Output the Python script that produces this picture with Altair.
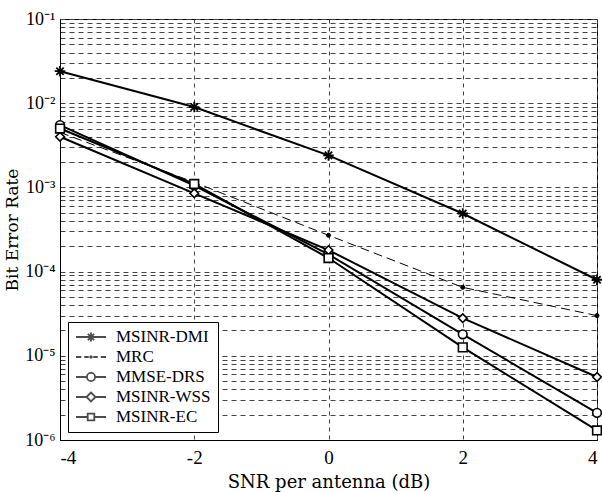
import altair as alt
import pandas as pd

snr = [-4, -2, 0, 2, 4]
series_names = ["MSINR-DMI", "MRC", "MMSE-DRS", "MSINR-WSS", "MSINR-EC"]
ber_dmi = [2.4e-2, 9.0e-3, 2.4e-3, 4.9e-4, 8.0e-5]
ber_mrc = [4.5e-3, 1.15e-3, 2.7e-4, 6.5e-5, 3.0e-5]
ber_drs = [5.5e-3, 1.05e-3, 1.6e-4, 1.8e-5, 2.1e-6]
ber_wss = [4.0e-3, 8.5e-4, 1.8e-4, 2.8e-5, 5.6e-6]
ber_ec = [5.0e-3, 1.1e-3, 1.45e-4, 1.26e-5, 1.3e-6]

rows = []
for name, vals in zip(series_names, [ber_dmi, ber_mrc, ber_drs, ber_wss, ber_ec]):
    for x, v in zip(snr, vals):
        rows.append({"snr": x, "ber": v, "series": name})
df = pd.DataFrame(rows)

FONT = "DejaVu Serif"
LFONT = "Liberation Serif"

# y-axis gridlines at every 1..9 x 10^k
yvals = [m * 10.0 ** k for k in range(-6, -1) for m in range(1, 10)] + [0.1]
sup = {-1: "10⁻¹", -2: "10⁻²", -3: "10⁻³", -4: "10⁻⁴", -5: "10⁻⁵", -6: "10⁻⁶"}
e = "(log(datum.value)/LN10)"
expr = "''"
for k, s in sup.items():
    expr = f"round({e}) == {k} ? '{s}' : " + expr
label_expr = f"abs({e} - round({e})) > 0.01 ? '' : " + expr

x_enc = alt.X(
    "snr:Q",
    scale=alt.Scale(domain=[-4, 4], nice=False, zero=False),
    axis=alt.Axis(
        values=snr, title="SNR per antenna (dB)", grid=True, gridDash=[4, 4],
        gridColor="#444", gridOpacity=1, ticks=False, labelPadding=8,
        labelExpr="replace(datum.label, '−', '-')",
        titlePadding=6, labelFont=LFONT, labelFontSize=19, titleFont=FONT,
        titleFontSize=18, titleFontWeight="normal", labelColor="black",
        titleColor="black", domainColor="black",
    ),
)
y_enc = alt.Y(
    "ber:Q",
    scale=alt.Scale(type="log", domain=[1e-6, 1e-1], nice=False),
    axis=alt.Axis(
        values=yvals, labelExpr=label_expr, title="Bit Error Rate", grid=True,
        gridDash=[5, 4], gridColor="#444", gridOpacity=1, ticks=False,
        labelPadding=5, titleX=-43, titleBaseline="alphabetic",
        labelFont=LFONT, labelFontSize=18,
        titleFont=FONT, titleFontSize=17, titleFontWeight="normal",
        labelColor="black", titleColor="black", domainColor="black",
        labelOverlap=False,
    ),
)

solid = alt.Chart(df).transform_filter("datum.series != 'MRC'").mark_line(
    color="black", strokeWidth=2
).encode(x=x_enc, y=y_enc, detail="series:N")

mrc_line = alt.Chart(df).transform_filter("datum.series == 'MRC'").mark_line(
    color="black", strokeWidth=1, strokeDash=[9, 5]
).encode(x=x_enc, y=y_enc)

asterisk = "M-1,0L1,0M0,-1L0,1M-0.7,-0.7L0.7,0.7M-0.7,0.7L0.7,-0.7"
open_names = ["MMSE-DRS", "MSINR-WSS", "MSINR-EC"]

dmi_pts = alt.Chart(df).transform_filter("datum.series == 'MSINR-DMI'").mark_point(
    shape=asterisk, size=110, filled=False, stroke="black", strokeWidth=1.8, opacity=1
).encode(x=x_enc, y=y_enc)

mrc_pts = alt.Chart(df).transform_filter("datum.series == 'MRC'").mark_point(
    shape="circle", size=16, filled=True, fill="black", stroke="black",
    strokeWidth=1, opacity=1
).encode(x=x_enc, y=y_enc)

open_pts = alt.Chart(df).transform_filter(
    alt.FieldOneOfPredicate(field="series", oneOf=open_names)
).mark_point(
    size=75, filled=True, fill="white", stroke="black", strokeWidth=1.6, opacity=1
).encode(
    x=x_enc, y=y_enc,
    shape=alt.Shape("series:N", scale=alt.Scale(domain=open_names,
                    range=["circle", "diamond", "square"]), legend=None),
)

leg_paths = [
    "M-1,0L1,0M-0.3,0L0.3,0M0,-0.3L0,0.3M-0.21,-0.21L0.21,0.21M-0.21,0.21L0.21,-0.21",
    "M-1,0L-0.65,0M-0.45,0L-0.15,0M0.15,0L0.45,0M0.65,0L1,0M-0.05,0A0.05,0.05 0 1,0 0.05,0A0.05,0.05 0 1,0 -0.05,0",
    "M-1,0L-0.27,0M0.27,0L1,0M-0.27,0A0.27,0.27 0 1,0 0.27,0A0.27,0.27 0 1,0 -0.27,0",
    "M-1,0L-0.3,0M0.3,0L1,0M-0.3,0L0,-0.3L0.3,0L0,0.3Z",
    "M-1,0L-0.22,0M0.22,0L1,0M-0.22,-0.22L0.22,-0.22L0.22,0.22L-0.22,0.22Z",
]
legend_layer = alt.Chart(df).transform_filter("datum.snr > 100").mark_point(
    filled=False, stroke="black", strokeWidth=1.8
).encode(
    color=alt.Color("series:N", scale=alt.Scale(domain=series_names,
                    range=["black"] * 5), legend=None),
    shape=alt.Shape("series:N", scale=alt.Scale(domain=series_names, range=leg_paths),
                    legend=alt.Legend(
                        title=None, orient="none", legendX=8, legendY=303,
                        symbolSize=900, symbolStrokeColor="black",
                        symbolFillColor="transparent", symbolStrokeWidth=1.8,
                        labelFont=LFONT, labelFontSize=17, labelColor="black",
                        labelOffset=9, strokeColor="black", fillColor="white",
                        padding=7, rowPadding=3, clipHeight=16, cornerRadius=0,
                    )),
)

chart = alt.layer(solid, mrc_line, dmi_pts, mrc_pts, open_pts, legend_layer).resolve_scale(
    shape="independent"
).properties(
    width=537, height=421,
    autosize=alt.AutoSizeParams(type="none"),
    padding={"left": 60, "top": 19, "right": 5, "bottom": 52},
    background="white",
).configure_view(stroke="black", strokeWidth=1)

chart.save("out.html", embed_options={"renderer": "svg", "actions": False})
